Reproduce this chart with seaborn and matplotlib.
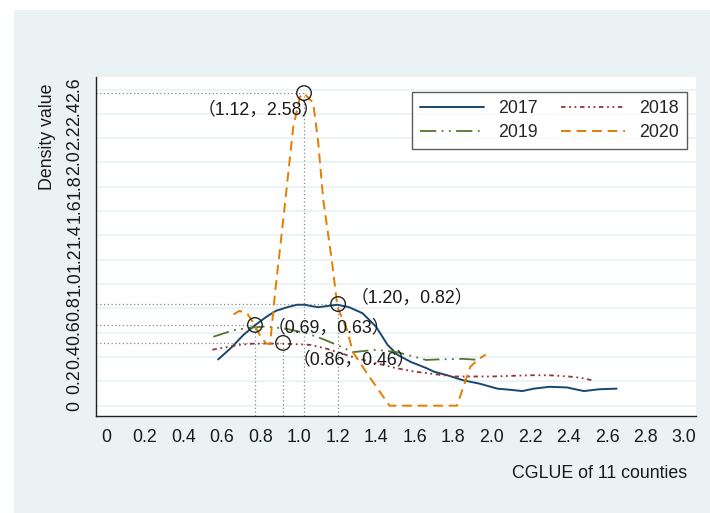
import matplotlib
matplotlib.use("Agg")
import matplotlib.pyplot as plt
import seaborn as sns
import pandas as pd
from matplotlib.patches import Rectangle

# ---------------- data ----------------
x2017 = [0.58, 0.65, 0.71, 0.77, 0.83, 0.88, 0.94, 0.99, 1.03, 1.06, 1.10, 1.15, 1.20, 1.26,
         1.33, 1.40, 1.46, 1.51, 1.58, 1.66, 1.70, 1.77, 1.85, 1.94, 2.03, 2.10, 2.16, 2.22,
         2.30, 2.39, 2.48, 2.56, 2.65]
y2017 = [0.38, 0.48, 0.58, 0.66, 0.73, 0.78, 0.81, 0.83, 0.83, 0.82, 0.81, 0.82, 0.83, 0.81,
         0.76, 0.65, 0.50, 0.42, 0.36, 0.31, 0.28, 0.25, 0.21, 0.18, 0.14, 0.13, 0.12, 0.14,
         0.155, 0.15, 0.12, 0.135, 0.14]

x2018 = [0.55, 0.62, 0.69, 0.76, 0.83, 0.92, 1.00, 1.06, 1.14, 1.22, 1.30, 1.40, 1.50, 1.60,
         1.70, 1.80, 1.90, 2.00, 2.10, 2.20, 2.30, 2.40, 2.46, 2.52]
y2018 = [0.46, 0.48, 0.50, 0.51, 0.51, 0.51, 0.505, 0.50, 0.47, 0.43, 0.39, 0.35, 0.31, 0.28,
         0.26, 0.24, 0.24, 0.24, 0.245, 0.25, 0.25, 0.24, 0.23, 0.21]

x2019 = [0.555, 0.66, 0.74, 0.815, 0.866, 0.94, 1.04, 1.12, 1.196, 1.28, 1.34, 1.40, 1.51,
         1.58, 1.66, 1.72, 1.85, 1.94]
y2019 = [0.567, 0.62, 0.64, 0.65, 0.645, 0.63, 0.595, 0.55, 0.50, 0.44, 0.45, 0.46, 0.44,
         0.41, 0.376, 0.38, 0.385, 0.376]

x2020 = [0.66, 0.69, 0.73, 0.76, 0.80, 0.83, 0.85, 0.875, 0.918, 0.97, 1.005, 1.025, 1.074,
         1.10, 1.126, 1.17, 1.20, 1.25, 1.28, 1.36, 1.47, 1.82, 1.89, 1.93, 1.97]
y2020 = [0.75, 0.78, 0.76, 0.69, 0.57, 0.51, 0.51, 0.92, 1.53, 2.29, 2.54, 2.57, 2.49,
         2.16, 1.69, 1.20, 0.81, 0.62, 0.44, 0.25, 0.0, 0.0, 0.32, 0.38, 0.42]

series_names = ["2017", "2018", "2019", "2020"]
series_x = [x2017, x2018, x2019, x2020]
series_y = [y2017, y2018, y2019, y2020]

# highlighted points (circle position) and their labels
mark_x = [1.026, 1.203, 0.771, 0.917]
mark_y = [2.571, 0.836, 0.664, 0.516]
mark_labels = ["（1.12，2.58）", "（1.20，0.82）", "（0.69，0.63）", "（0.86，0.46）"]

xticks = [0, 0.2, 0.4, 0.6, 0.8, 1.0, 1.2, 1.4, 1.6, 1.8, 2.0, 2.2, 2.4, 2.6, 2.8, 3.0]
yticks = [0, 0.2, 0.4, 0.6, 0.8, 1.0, 1.2, 1.4, 1.6, 1.8, 2.0, 2.2, 2.4, 2.6]
ytick_labels = ["0", "0.2", "0.4", "0.6", "0.8", "1.0", "1.2", "1.4", "1.6", "1.8",
                "2.0", "2.2", "2.4", "2.6"]

# ---------------- style ----------------
sns.set_style("white")
plt.rcParams["font.family"] = ["Liberation Sans", "Noto Sans CJK SC", "DejaVu Sans"]

FS = 12.8
BG = "#EAF2F3"
colors = ["#1a476f", "#90353b", "#55752f", "#e37e00"]
styles = ["-", (0, (2.5, 2, 1, 2, 1, 2)), (0, (9, 3, 1, 3, 1, 3)), (0, (5, 3))]
widths = [1.4, 1.3, 1.3, 1.4]

fig = plt.figure(figsize=(7.1, 5.13), dpi=100)
fig.patch.set_facecolor("white")
bg_ax = fig.add_axes([14 / 710, 0, 1 - 14 / 710, 1 - 10 / 513], zorder=-5)
bg_ax.set_facecolor(BG)
bg_ax.set_axis_off()
bg_ax.add_patch(Rectangle((0, 0), 1, 1, transform=bg_ax.transAxes, facecolor=BG,
                          edgecolor="none"))

ax = fig.add_axes([96 / 710, 1 - 416 / 513, 600 / 710, 339 / 513], zorder=1)
ax.set_facecolor("white")

x0, x1 = -0.0545, 3.062
y0, y1 = -0.085, 2.703
ax.set_xlim(x0, x1)
ax.set_ylim(y0, y1)

for yt in yticks:
    ax.axhline(yt, color=BG, lw=1.3, zorder=1)

handles = {}
for name, xs, ys, c, ls, lw in zip(series_names, series_x, series_y, colors, styles, widths):
    df = pd.DataFrame({"x": xs, "y": ys})
    sns.lineplot(data=df, x="x", y="y", ax=ax, color=c, linestyle=ls, linewidth=lw,
                 estimator=None, sort=False, label=name, zorder=3)
    handles[name] = ax.lines[-1]

# guide lines + circles
for mx, my in zip(mark_x, mark_y):
    ax.plot([x0, mx], [my, my], color="#8a8a8a", lw=0.9, ls=(0, (1, 2)), zorder=2)
    ax.plot([mx, mx], [y0, my], color="#8a8a8a", lw=0.9, ls=(0, (1, 2)), zorder=2)
sns.scatterplot(x=mark_x, y=mark_y, ax=ax, s=110, facecolor="none", edgecolor="#222222",
                linewidth=1.0, zorder=4)

txt_kw = dict(fontsize=FS, color="#1a1a1a", zorder=5)
ax.text(1.109, 2.432, mark_labels[0], ha="right", va="center", **txt_kw)
ax.text(1.27, 0.883, mark_labels[1], ha="left", va="center", **txt_kw)
ax.text(0.838, 0.637, mark_labels[2], ha="left", va="center", **txt_kw)
ax.text(0.967, 0.376, mark_labels[3], ha="left", va="center", **txt_kw)

# axes styling
for s in ["top", "right"]:
    ax.spines[s].set_visible(False)
for s in ["left", "bottom"]:
    ax.spines[s].set_color("#222222")
    ax.spines[s].set_linewidth(1.0)

ax.set_xticks(xticks)
ax.set_xticklabels([f"{t:.1f}" if t != 0 else "0" for t in xticks])
ax.set_yticks(yticks)
ax.set_yticklabels(ytick_labels, rotation=90, va="center")
ax.tick_params(axis="both", direction="out", length=5, width=1.0, color="#222222",
               labelsize=FS, labelcolor="#1a1a1a", pad=4.5)
ax.tick_params(axis="y", pad=4)
ax.set_xlabel("")
ax.set_ylabel("")
ax.grid(False)

fig.text(687 / 710, 1 - 473 / 513, "CGLUE of 11 counties", ha="right", va="center",
         fontsize=FS, color="#1a1a1a")
fig.text(47 / 710, 1 - 84 / 513, "Density value", ha="center", va="top", rotation=90,
         fontsize=FS, color="#1a1a1a")

order = ["2017", "2019", "2018", "2020"]
leg = ax.legend([handles[k] for k in order], order, loc="upper right",
                bbox_to_anchor=(0.985, 0.956), ncol=2, fontsize=FS,
                frameon=True, fancybox=False, edgecolor="#333333", handlelength=3.6,
                handletextpad=0.8, columnspacing=1.3, borderaxespad=0, labelspacing=0.4,
                borderpad=0.45)
leg.get_frame().set_linewidth(1.0)

fig.savefig("out.png", dpi=100, facecolor=fig.get_facecolor())
